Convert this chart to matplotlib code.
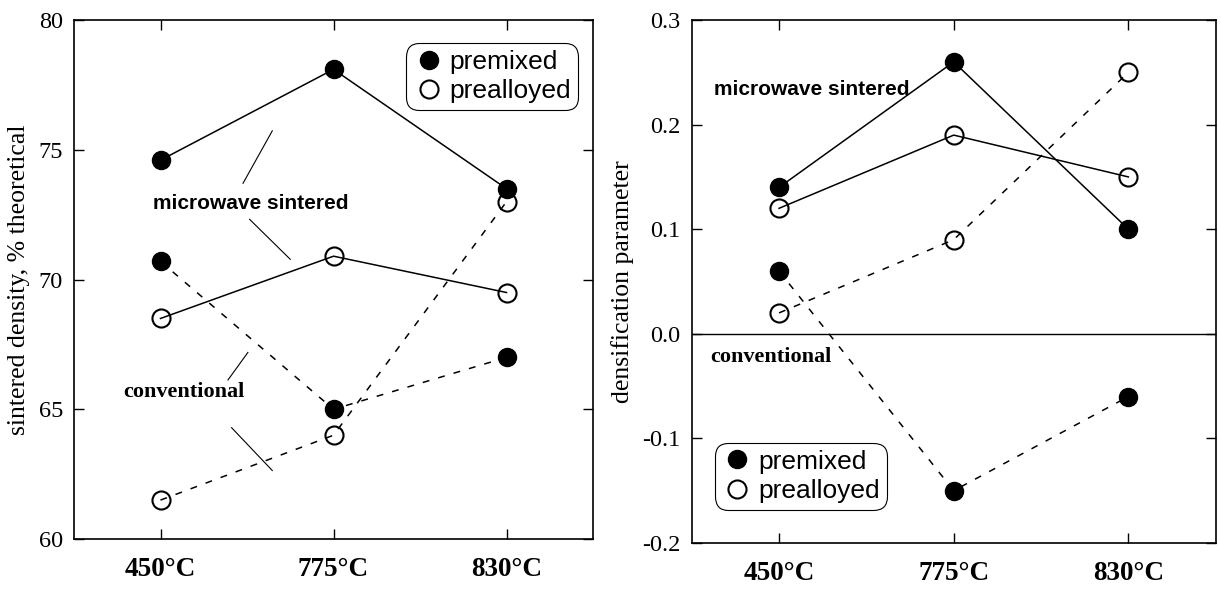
import matplotlib
matplotlib.use('Agg')
from matplotlib import pyplot as plt
from matplotlib.lines import Line2D
import numpy as np

temps = ['450°C', '775°C', '830°C']

# sintered density, % theoretical
dens_mw_premixed = [74.6, 78.1, 73.5]
dens_mw_prealloyed = [68.5, 70.9, 69.5]
dens_conv_premixed = [70.7, 65.0, 67.0]
dens_conv_prealloyed = [61.5, 64.0, 73.0]

# densification parameter
dp_mw_premixed = [0.14, 0.26, 0.10]
dp_mw_prealloyed = [0.12, 0.19, 0.15]
dp_conv_premixed = [0.06, -0.15, -0.06]
dp_conv_prealloyed = [0.02, 0.09, 0.25]

serif = ['Liberation Serif', 'DejaVu Serif']
sans = ['Liberation Sans', 'DejaVu Sans']
plt.rcParams['font.family'] = serif

x = np.arange(len(temps))
dash = (0, (4.5, 6))
ms = 13


def draw(ax, premixed_mw, prealloyed_mw, premixed_cv, prealloyed_cv):
    ax.plot(x, premixed_mw, color='k', lw=1.1, marker='o', ms=ms, mfc='k', mec='k', zorder=3)
    ax.plot(x, prealloyed_mw, color='k', lw=1.1, marker='o', ms=ms, mfc='none', mec='k', mew=1.5, zorder=3)
    ax.plot(x, premixed_cv, color='k', lw=1.1, ls=dash, marker='o', ms=ms, mfc='k', mec='k', zorder=3)
    ax.plot(x, prealloyed_cv, color='k', lw=1.1, ls=dash, marker='o', ms=ms, mfc='none', mec='k', mew=1.5, zorder=3)
    ax.set_xlim(-0.5, 2.5)
    ax.tick_params(direction='in', top=True, right=True, length=7, width=1)
    ax.tick_params(axis='x', pad=13)
    ax.tick_params(axis='y', pad=8, labelsize=17.5)
    ax.set_xticks(x)
    ax.set_xticklabels(temps, fontsize=19.5, fontweight='bold', family=serif)
    for s in ax.spines.values():
        s.set_linewidth(1.2)


def add_legend(ax, **kw):
    handles = [Line2D([], [], ls='none', marker='o', ms=ms, mfc='k', mec='k'),
               Line2D([], [], ls='none', marker='o', ms=ms, mfc='none', mec='k', mew=1.5)]
    leg = ax.legend(handles, ['premixed', 'prealloyed'], prop={'family': sans, 'size': 19},
                    fancybox=True, framealpha=1, edgecolor='k', borderaxespad=0,
                    handletextpad=0.2, handlelength=1.2, borderpad=0.25, labelspacing=0.2, **kw)
    frame = leg.get_frame()
    frame.set_linewidth(0.8)
    frame.set_boxstyle('round,pad=0,rounding_size=0.5')


fig = plt.figure(figsize=(12.21, 5.9), dpi=100)
ax1 = fig.add_axes([0.0606, 0.0864, 0.4251, 0.8796])
ax2 = fig.add_axes([0.5665, 0.0797, 0.4292, 0.8863])

# left: sintered density
draw(ax1, dens_mw_premixed, dens_mw_prealloyed, dens_conv_premixed, dens_conv_prealloyed)
ax1.set_ylim(60, 80)
ax1.set_yticks([60, 65, 70, 75, 80])
ax1.set_ylabel('sintered density, % theoretical', fontsize=18.5, labelpad=6)
add_legend(ax1, loc='upper right', bbox_to_anchor=(0.971, 0.955))

ax1.text(0.52, 72.94, 'microwave sintered', ha='center', va='center',
         fontsize=15, fontweight='bold', family=sans)
ax1.plot([0.477, 0.646], [73.71, 75.73], color='k', lw=0.8)
ax1.plot([0.515, 0.750], [72.32, 70.78], color='k', lw=0.8)
ax1.text(0.134, 65.68, 'conventional', ha='center', va='center',
         fontsize=16, fontweight='bold', family=serif)
ax1.plot([0.39, 0.505], [66.13, 67.19], color='k', lw=0.8)
ax1.plot([0.411, 0.646], [64.29, 62.64], color='k', lw=0.8)

# right: densification parameter
draw(ax2, dp_mw_premixed, dp_mw_prealloyed, dp_conv_premixed, dp_conv_prealloyed)
ax2.axhline(0, color='k', lw=1)
ax2.set_ylim(-0.2, 0.3)
ax2.set_yticks([-0.2, -0.1, 0.0, 0.1, 0.2, 0.3])
ax2.set_yticklabels(['-0.2', '-0.1', '0.0', '0.1', '0.2', '0.3'])
ax2.set_ylabel('densification parameter', fontsize=18.5, labelpad=6)
add_legend(ax2, loc='lower left', bbox_to_anchor=(0.044, 0.064))

ax2.text(0.19, 0.2337, 'microwave sintered', ha='center', va='center',
         fontsize=15, fontweight='bold', family=sans)
ax2.text(-0.047, -0.022, 'conventional', ha='center', va='center',
         fontsize=16, fontweight='bold', family=serif)

fig.savefig('out.png', dpi=100)
